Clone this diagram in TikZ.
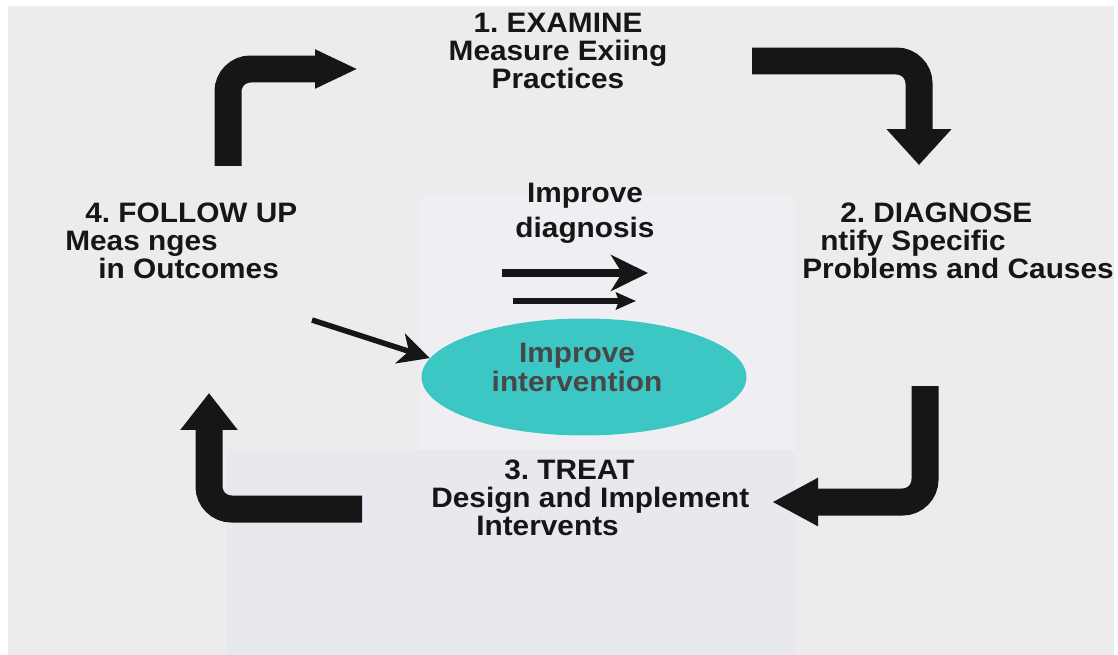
\documentclass[tikz,border=0pt]{standalone}
\usepackage{fontspec}
\setmainfont{Liberation Sans}[FakeStretch=1.06]
\usetikzlibrary{arrows.meta,shapes.geometric}
\definecolor{scanGray}{RGB}{236,236,236}
\definecolor{scanLilac}{RGB}{232,232,239}
\definecolor{scanLight}{RGB}{238,238,243}
\definecolor{bubbleTeal}{RGB}{60,199,197}
\definecolor{inkBlack}{RGB}{22,22,22}
\frenchspacing

\begin{document}
\begin{tikzpicture}[
        x=0.02cm, y=-0.02cm,
        stage/.style={inner sep=0pt, align=left, text=inkBlack, font=\fontsize{16}{15.8}\selectfont\bfseries},
        note/.style={inner sep=0pt, align=center, text=inkBlack, font=\fontsize{16}{20}\selectfont\bfseries},
        bubble/.style={ellipse, fill=bubbleTeal, minimum width=6.5cm, minimum height=2.34cm, inner sep=0pt},
        bubbletext/.style={inner sep=0pt, align=center, text=black!72, font=\fontsize{16}{16.5}\selectfont\bfseries},
        bigarrow/.style={line width=0.54cm, draw=inkBlack, rounded corners=0.45cm},
        thinarrow/.style={draw=inkBlack}
    ]
        \useasboundingbox (0,0) rectangle (1118,655);

        % Background
        \fill[white] (0,0) rectangle (1118,655);
        \fill[scanGray] (8,6) rectangle (1114,655);
        \fill[scanLilac] (226,450) rectangle (795,655);
        \fill[scanLight] (420,196) rectangle (795,450);

        % Stages
        \node[stage, align=center, anchor=north] (examine) at (558,13) {1. EXAMINE\\Measure Exiing\\Practices};
        \node[stage, anchor=north west] (diagnose) at (802,203) {\hspace*{21.6pt}2. DIAGNOSE\\\hspace*{10.2pt}ntify Specific\\Problems and Causes};
        \node[stage, anchor=north west] (treat) at (431,460) {\hspace*{41.5pt}3. TREAT\\Design and Implement\\\hspace*{25.6pt}Intervents};
        \node[stage, anchor=north west] (follow) at (65,203) {\hspace*{11.4pt}4. FOLLOW UP\\Meas nges\\\hspace*{18.8pt}in Outcomes};

        % Centre
        \node[note, anchor=north] (diagnosis) at (585,183) {Improve\\diagnosis};
        \node[bubble] (bubble) at (584,377) {};
        \node[bubbletext, anchor=north] (interv) at (577,343) {Improve\\intervention};

        % Cycle arrows
        \coordinate (exStart) at (228,166);
        \coordinate (exEnd) at (358,69);
        \coordinate (dgStart) at (752,61);
        \coordinate (dgEnd) at (919,165);
        \coordinate (trStart) at (925,386);
        \coordinate (trEnd) at (772,502);
        \coordinate (fuStart) at (362,509);
        \coordinate (fuEnd) at (209,393);
        \draw[bigarrow, -{Triangle[width=0.72cm, length=0.86cm]}] (exStart) |- (exEnd);
        \draw[bigarrow, -{Triangle[width=1.26cm, length=0.72cm]}] (dgStart) -| (dgEnd);
        \draw[bigarrow, -{Triangle[width=0.9cm, length=0.92cm]}] (trStart) |- (trEnd);
        \draw[bigarrow, -{Triangle[width=1.1cm, length=0.74cm]}] (fuStart) -| (fuEnd);

        % Improvement arrows
        \coordinate (upStart) at (502,273);
        \coordinate (upEnd) at (648,273);
        \coordinate (lowStart) at (513,301);
        \coordinate (lowEnd) at (636,301);
        \coordinate (slantStart) at (312,320);
        \draw[thinarrow, line width=0.15cm, -{Stealth[length=0.74cm, width=0.72cm, inset=0.22cm]}] (upStart) -- (upEnd);
        \draw[thinarrow, line width=0.12cm, -{Stealth[length=0.4cm, width=0.34cm, inset=0.06cm]}] (lowStart) -- (lowEnd);
        \draw[thinarrow, line width=0.11cm, -{Stealth[length=0.62cm, width=0.62cm, inset=0.18cm]}] (slantStart) -- (bubble.173);

\end{tikzpicture}
\end{document}
